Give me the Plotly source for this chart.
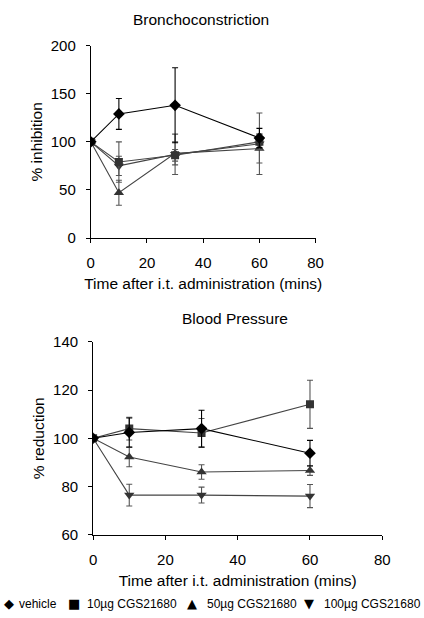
import plotly.graph_objects as go

time = [0, 10, 30, 60]
series_names = ["vehicle", "10µg CGS21680", "50µg CGS21680", "100µg CGS21680"]
symbols = ["diamond", "square", "triangle-up", "triangle-down"]

# Bronchoconstriction (% inhibition)
bronch_vehicle = [100, 129, 138, 104]
bronch_vehicle_err = [0, 16, 39, 10]
bronch_10 = [100, 79, 86, 100]
bronch_10_err = [0, 21, 6, 8]
bronch_50 = [100, 47, 88, 93]
bronch_50_err = [0, 13, 12, 15]
bronch_100 = [100, 75, 87, 98]
bronch_100_err = [0, 10, 21, 32]

# Blood pressure (% reduction)
bp_vehicle = [100, 102.4, 104, 93.8]
bp_vehicle_err = [0, 6, 7.6, 5.3]
bp_10 = [100, 104, 102.2, 114.1]
bp_10_err = [0, 4.7, 6, 10]
bp_50 = [100, 92.2, 86, 86.6]
bp_50_err = [0, 4, 3, 2]
bp_100 = [100, 76.4, 76.4, 76]
bp_100_err = [0, 4.5, 3.3, 4.8]

colors = ["#000000", "#333333", "#333333", "#333333"]
line_colors = ["#000000", "#444444", "#444444", "#444444"]
err_colors = ["#000000", "#555555", "#555555", "#555555"]
sizes = [9, 8, 9, 9]

W, H = 424, 618
FONT = "Liberation Sans, Arial, Helvetica, sans-serif"

fig = go.Figure()

top = [(bronch_vehicle, bronch_vehicle_err), (bronch_10, bronch_10_err),
       (bronch_50, bronch_50_err), (bronch_100, bronch_100_err)]
bot = [(bp_vehicle, bp_vehicle_err), (bp_10, bp_10_err),
       (bp_50, bp_50_err), (bp_100, bp_100_err)]

order = [3, 2, 1, 0]
for i in order:
    y, e = top[i]
    fig.add_trace(go.Scatter(
        x=time, y=y, mode="lines+markers", name=series_names[i], showlegend=False,
        line=dict(color=line_colors[i], width=1.1),
        marker=dict(symbol=symbols[i], size=sizes[i], color=colors[i]),
        error_y=dict(type="data", array=e, visible=True, color=err_colors[i], thickness=1.1, width=3),
        xaxis="x", yaxis="y"))
for i in order:
    y, e = bot[i]
    fig.add_trace(go.Scatter(
        x=time, y=y, mode="lines+markers", name=series_names[i], showlegend=False,
        line=dict(color=line_colors[i], width=1.1),
        marker=dict(symbol=symbols[i], size=sizes[i], color=colors[i]),
        error_y=dict(type="data", array=e, visible=True, color=err_colors[i], thickness=1.1, width=3),
        xaxis="x2", yaxis="y2"))

axis_common = dict(showline=True, linecolor="black", linewidth=1, ticks="outside",
                   ticklen=4, tickcolor="black", tickwidth=1, showgrid=False, zeroline=False,
                   tickfont=dict(family=FONT, size=15, color="black"),
                   title_font=dict(family=FONT, size=15.5, color="black"))
x_common = dict(ticklabelstandoff=7, **axis_common)
y_common = dict(ticklabelstandoff=7, **axis_common)

def px_x(p):
    return p / W

def px_y(p):
    return 1 - p / H

fig.update_layout(
    width=W, height=H, margin=dict(l=0, r=0, t=0, b=0),
    paper_bgcolor="white", plot_bgcolor="white",
    font=dict(family=FONT, color="black"),
    xaxis=dict(domain=[px_x(89.3), px_x(320.7)], range=[0, 80], dtick=20, anchor="y",
               title=dict(text="Time after i.t. administration (mins)", standoff=8), **x_common),
    yaxis=dict(domain=[px_y(235.5), px_y(37.7)], range=[0, 200], dtick=50, anchor="x",
               title=dict(text="% inhibition", standoff=4), **y_common),
    xaxis2=dict(domain=[px_x(91.7), px_x(389.3)], range=[0, 80], dtick=20, anchor="y2",
                title=dict(text="Time after i.t. administration (mins)", standoff=8), **x_common),
    yaxis2=dict(domain=[px_y(540.5), px_y(342.3)], range=[60, 140], dtick=20, anchor="x2",
                title=dict(text="% reduction", standoff=4), **y_common),
)

# subplot titles
fig.add_annotation(text="Bronchoconstriction", x=px_x(203), y=px_y(11), xref="paper", yref="paper",
                   showarrow=False, xanchor="center", yanchor="middle",
                   font=dict(family=FONT, size=15.5, color="black"))
fig.add_annotation(text="Blood Pressure", x=px_x(237.5), y=px_y(318), xref="paper", yref="paper",
                   showarrow=False, xanchor="center", yanchor="middle",
                   font=dict(family=FONT, size=15.5, color="black"))

# legend (glyph + label)
glyphs = ["◆", "■", "▲", "▼"]
glyph_x = [5, 72, 193, 314]
text_x = [13, 83, 207, 327]
for g, gx, tx, name in zip(glyphs, glyph_x, text_x, series_names):
    fig.add_annotation(text=g, x=px_x(gx), y=px_y(611.5), xref="paper", yref="paper",
                       showarrow=False, xanchor="center", yanchor="middle",
                       font=dict(family="DejaVu Sans", size=13, color="black"))
    fig.add_annotation(text=name, x=px_x(tx), y=px_y(611.5), xref="paper", yref="paper",
                       showarrow=False, xanchor="left", yanchor="middle",
                       font=dict(family=FONT, size=12, color="black"))

# remove the default page margin so the figure sits at the window's top-left corner
fig.write_html("out.html", config={"displayModeBar": False},
               post_script="document.body.style.margin='0';document.body.style.overflow='hidden';")
